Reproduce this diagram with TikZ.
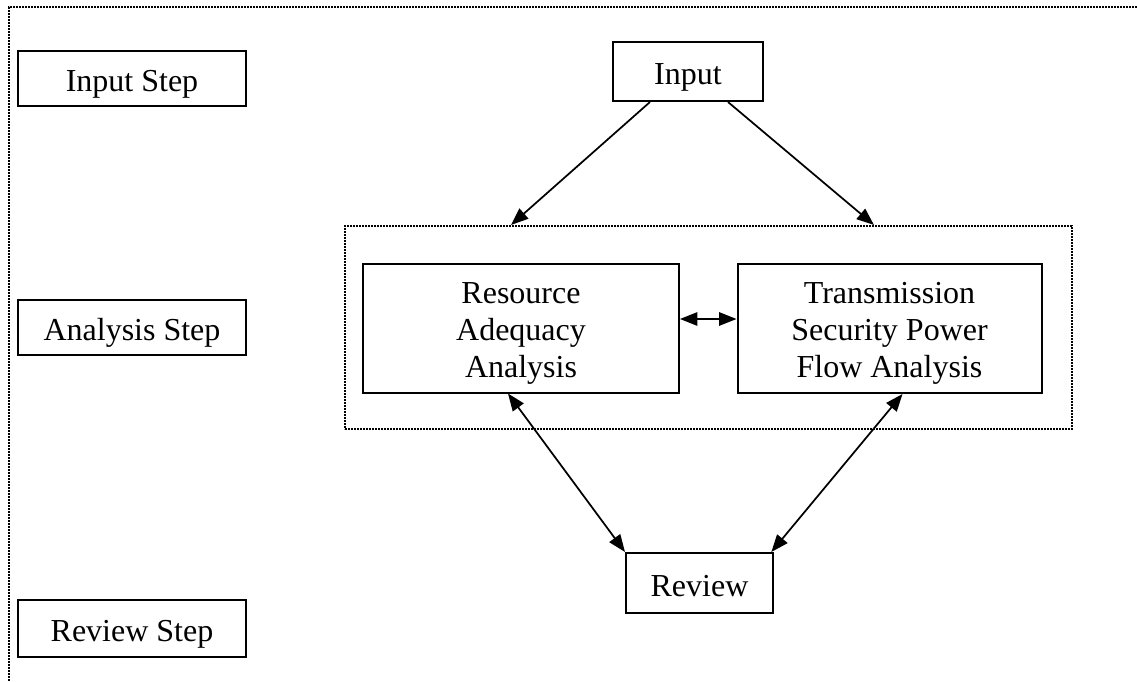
\documentclass[tikz,border=0pt]{standalone}
\usepackage{fontspec}
\setmainfont{Liberation Serif}
\usetikzlibrary{arrows.meta}
\begin{document}
\begin{tikzpicture}[x=0.75pt,y=-0.75pt,
  box/.style={draw, line width=1.5pt, rectangle, align=center, inner sep=0pt,
    font=\fontsize{24}{27.75}\selectfont},
  one/.style={text height=20pt, text depth=0pt},
  three/.style={text height=73.5pt, text depth=0pt},
  dotline/.style={line width=1.5pt, dash pattern=on 1.2pt off 1.05pt},
  tip/.tip={Triangle[length=13pt,width=10pt]},
  arr/.style={line width=1.3pt, -tip},
  darr/.style={line width=1.3pt, tip-tip}]
\useasboundingbox (0,0) rectangle (1137,681);
% outer dotted frame (top and left visible)
\coordinate (ftl) at (9,7);
\coordinate (ftr) at (1137,7);
\coordinate (fbl) at (9,681);
\draw[dotline] (ftr) -- (ftl) -- (fbl);
% step labels
\node[box, one, minimum width=228*0.75pt, minimum height=55*0.75pt] (inputstep) at (132,78.5) {Input Step};
\node[box, one, minimum width=228*0.75pt, minimum height=55*0.75pt] (analysisstep) at (132,327) {Analysis Step};
\node[box, one, minimum width=228*0.75pt, minimum height=57*0.75pt] (reviewstep) at (132,628.5) {Review Step};
% group dotted box
\node[draw, dotline, rectangle, minimum width=727*0.75pt, minimum height=203*0.75pt, inner sep=0pt] (group) at (708.5,327.5) {};
% main nodes
\node[box, one, minimum width=150*0.75pt, minimum height=59*0.75pt] (input) at (688,71.5) {Input};
\node[box, three, minimum width=316*0.75pt, minimum height=129*0.75pt] (resource) at (521,328) {Resource\\Adequacy\\Analysis};
\node[box, three, minimum width=304*0.75pt, minimum height=129*0.75pt] (trans) at (889.5,328.5) {Transmission\\Security Power\\Flow Analysis};
\node[box, one, minimum width=147*0.75pt, minimum height=60*0.75pt] (review) at (699.5,583) {Review};
% connectors
\draw[arr] ([xshift=-28.5pt]input.south) -- ([xshift=125.25pt]group.north west);
\draw[arr] ([xshift=30pt]input.south) -- ([xshift=-149.25pt]group.north east);
\draw[darr] ([yshift=6.75pt]resource.east) -- ([yshift=6.75pt]resource.east -| trans.west);
\draw[darr] ([xshift=-9.75pt]resource.south) -- (review.north west);
\draw[darr] ([xshift=9.75pt]trans.south) -- ([xshift=-2pt]review.north east);
\end{tikzpicture}
\end{document}
